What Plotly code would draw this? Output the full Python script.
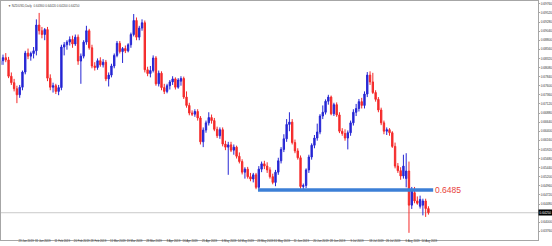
import plotly.graph_objects as go

# ---------------- data (NZDUSD, Daily) ----------------
dates = [
    "14 Jan 2019", "15 Jan 2019", "16 Jan 2019", "17 Jan 2019", "18 Jan 2019",
    "21 Jan 2019", "22 Jan 2019", "23 Jan 2019", "24 Jan 2019", "25 Jan 2019",
    "28 Jan 2019", "29 Jan 2019", "30 Jan 2019", "31 Jan 2019", "1 Feb 2019",
    "4 Feb 2019", "5 Feb 2019", "6 Feb 2019", "7 Feb 2019", "8 Feb 2019",
    "11 Feb 2019", "12 Feb 2019", "13 Feb 2019", "14 Feb 2019", "15 Feb 2019",
    "18 Feb 2019", "19 Feb 2019", "20 Feb 2019", "21 Feb 2019", "22 Feb 2019",
    "25 Feb 2019", "26 Feb 2019", "27 Feb 2019", "28 Feb 2019", "1 Mar 2019",
    "4 Mar 2019", "5 Mar 2019", "6 Mar 2019", "7 Mar 2019", "8 Mar 2019",
    "11 Mar 2019", "12 Mar 2019", "13 Mar 2019", "14 Mar 2019", "15 Mar 2019",
    "18 Mar 2019", "19 Mar 2019", "20 Mar 2019", "21 Mar 2019", "22 Mar 2019",
    "25 Mar 2019", "26 Mar 2019", "27 Mar 2019", "28 Mar 2019", "29 Mar 2019",
    "1 Apr 2019", "2 Apr 2019", "3 Apr 2019", "4 Apr 2019", "5 Apr 2019",
    "8 Apr 2019", "9 Apr 2019", "10 Apr 2019", "11 Apr 2019", "12 Apr 2019",
    "15 Apr 2019", "16 Apr 2019", "17 Apr 2019", "18 Apr 2019", "19 Apr 2019",
    "22 Apr 2019", "23 Apr 2019", "24 Apr 2019", "25 Apr 2019", "26 Apr 2019",
    "29 Apr 2019", "30 Apr 2019", "1 May 2019", "2 May 2019", "3 May 2019",
    "6 May 2019", "7 May 2019", "8 May 2019", "9 May 2019", "10 May 2019",
    "13 May 2019", "14 May 2019", "15 May 2019", "16 May 2019", "17 May 2019",
    "20 May 2019", "21 May 2019", "22 May 2019", "23 May 2019", "24 May 2019",
    "27 May 2019", "28 May 2019", "29 May 2019", "30 May 2019", "31 May 2019",
    "3 Jun 2019", "4 Jun 2019", "5 Jun 2019", "6 Jun 2019", "7 Jun 2019",
    "10 Jun 2019", "11 Jun 2019", "12 Jun 2019", "13 Jun 2019", "14 Jun 2019",
    "17 Jun 2019", "18 Jun 2019", "19 Jun 2019", "20 Jun 2019", "21 Jun 2019",
    "24 Jun 2019", "25 Jun 2019", "26 Jun 2019", "27 Jun 2019", "28 Jun 2019",
    "1 Jul 2019", "2 Jul 2019", "3 Jul 2019", "4 Jul 2019", "5 Jul 2019",
    "8 Jul 2019", "9 Jul 2019", "10 Jul 2019", "11 Jul 2019", "12 Jul 2019",
    "15 Jul 2019", "16 Jul 2019", "17 Jul 2019", "18 Jul 2019", "19 Jul 2019",
    "22 Jul 2019", "23 Jul 2019", "24 Jul 2019", "25 Jul 2019", "26 Jul 2019",
    "29 Jul 2019", "30 Jul 2019", "31 Jul 2019", "1 Aug 2019", "2 Aug 2019",
    "5 Aug 2019", "6 Aug 2019", "7 Aug 2019", "8 Aug 2019", "9 Aug 2019",
    "12 Aug 2019", "13 Aug 2019", "14 Aug 2019", "15 Aug 2019", "16 Aug 2019",
]

opens = [
    0.6815, 0.6826, 0.6834, 0.6828, 0.6785, 0.6768, 0.6752, 0.6736, 0.6756, 0.6796,
    0.6846, 0.6838, 0.6845, 0.6852, 0.6920, 0.6905, 0.6895, 0.6908, 0.6780, 0.6756,
    0.6760, 0.6745, 0.6755, 0.6862, 0.6868, 0.6875, 0.6882, 0.6870, 0.6888, 0.6825,
    0.6838, 0.6875, 0.6905, 0.6860, 0.6812, 0.6808, 0.6826, 0.6815, 0.6822, 0.6778,
    0.6788, 0.6812, 0.6840, 0.6872, 0.6850, 0.6858, 0.6852, 0.6868, 0.6895, 0.6932,
    0.6888, 0.6912, 0.6926, 0.6802, 0.6792, 0.6800, 0.6833, 0.6765, 0.6793, 0.6755,
    0.6745, 0.6760, 0.6770, 0.6778, 0.6756, 0.6772, 0.6779, 0.6730, 0.6708, 0.6688,
    0.6685, 0.6692, 0.6675, 0.6612, 0.6643, 0.6662, 0.6676, 0.6668, 0.6645, 0.6628,
    0.6644, 0.6606, 0.6598, 0.6604, 0.6590, 0.6598, 0.6574, 0.6560, 0.6532, 0.6540,
    0.6520, 0.6514, 0.6525, 0.6492, 0.6540, 0.6554, 0.6548, 0.6538, 0.6520, 0.6505,
    0.6532, 0.6562, 0.6592, 0.6620, 0.6658, 0.6664, 0.6610, 0.6588, 0.6570, 0.6494,
    0.6497, 0.6538, 0.6572, 0.6603, 0.6622, 0.6638, 0.6680, 0.6690, 0.6719, 0.6730,
    0.6686, 0.6710, 0.6683, 0.6640, 0.6634, 0.6622, 0.6636, 0.6662, 0.6690, 0.6700,
    0.6718, 0.6708, 0.6738, 0.6788, 0.6770, 0.6742, 0.6724, 0.6696, 0.6662, 0.6640,
    0.6644, 0.6636, 0.6600, 0.6548, 0.6536, 0.6522, 0.6515, 0.6535, 0.6445, 0.6478,
    0.6456, 0.6442, 0.6445, 0.6456, 0.6436,
]
highs = [
    0.6832, 0.6842, 0.6846, 0.6836, 0.6795, 0.6778, 0.6760, 0.6762, 0.6800, 0.6852,
    0.6858, 0.6850, 0.6862, 0.6935, 0.6952, 0.6915, 0.6912, 0.6915, 0.6790, 0.6768,
    0.6765, 0.6762, 0.6868, 0.6875, 0.6880, 0.6890, 0.6892, 0.6895, 0.6895, 0.6845,
    0.6880, 0.6918, 0.6910, 0.6868, 0.6822, 0.6832, 0.6835, 0.6830, 0.6828, 0.6795,
    0.6818, 0.6845, 0.6878, 0.6878, 0.6862, 0.6866, 0.6872, 0.6900, 0.6949, 0.6940,
    0.6918, 0.6935, 0.6932, 0.6810, 0.6812, 0.6840, 0.6838, 0.6800, 0.6798, 0.6765,
    0.6765, 0.6775, 0.6785, 0.6782, 0.6780, 0.6785, 0.6784, 0.6745, 0.6715, 0.6695,
    0.6698, 0.6698, 0.6680, 0.6650, 0.6668, 0.6690, 0.6684, 0.6675, 0.6652, 0.6650,
    0.6650, 0.6615, 0.6612, 0.6612, 0.6605, 0.6602, 0.6584, 0.6566, 0.6545, 0.6546,
    0.6530, 0.6530, 0.6530, 0.6548, 0.6560, 0.6562, 0.6558, 0.6545, 0.6528, 0.6538,
    0.6570, 0.6598, 0.6632, 0.6672, 0.6690, 0.6672, 0.6618, 0.6595, 0.6576, 0.6502,
    0.6542, 0.6578, 0.6608, 0.6630, 0.6660, 0.6685, 0.6708, 0.6724, 0.6736, 0.6734,
    0.6715, 0.6716, 0.6690, 0.6648, 0.6645, 0.6642, 0.6668, 0.6698, 0.6712, 0.6725,
    0.6728, 0.6745, 0.6796, 0.6798, 0.6794, 0.6748, 0.6730, 0.6702, 0.6668, 0.6650,
    0.6648, 0.6640, 0.6610, 0.6556, 0.6545, 0.6578, 0.6582, 0.6560, 0.6493, 0.6493,
    0.6468, 0.6470, 0.6462, 0.6462, 0.6442,
]
lows = [
    0.6805, 0.6815, 0.6822, 0.6780, 0.6762, 0.6745, 0.6714, 0.6728, 0.6748, 0.6790,
    0.6830, 0.6826, 0.6832, 0.6840, 0.6895, 0.6885, 0.6880, 0.6772, 0.6748, 0.6742,
    0.6738, 0.6735, 0.6748, 0.6840, 0.6855, 0.6866, 0.6860, 0.6865, 0.6815, 0.6765,
    0.6832, 0.6868, 0.6855, 0.6806, 0.6800, 0.6802, 0.6810, 0.6808, 0.6772, 0.6758,
    0.6782, 0.6806, 0.6835, 0.6845, 0.6820, 0.6846, 0.6848, 0.6860, 0.6890, 0.6880,
    0.6880, 0.6905, 0.6795, 0.6785, 0.6782, 0.6795, 0.6760, 0.6758, 0.6748, 0.6738,
    0.6740, 0.6750, 0.6762, 0.6750, 0.6752, 0.6760, 0.6725, 0.6702, 0.6682, 0.6680,
    0.6678, 0.6668, 0.6605, 0.6598, 0.6636, 0.6655, 0.6660, 0.6640, 0.6622, 0.6620,
    0.6600, 0.6590, 0.6525, 0.6585, 0.6578, 0.6568, 0.6555, 0.6526, 0.6515, 0.6515,
    0.6508, 0.6505, 0.6487, 0.6484, 0.6532, 0.6540, 0.6530, 0.6515, 0.6500, 0.6495,
    0.6525, 0.6555, 0.6585, 0.6612, 0.6640, 0.6605, 0.6582, 0.6565, 0.6488, 0.6485,
    0.6490, 0.6530, 0.6565, 0.6595, 0.6615, 0.6632, 0.6672, 0.6684, 0.6710, 0.6682,
    0.6680, 0.6678, 0.6635, 0.6628, 0.6615, 0.6592, 0.6628, 0.6655, 0.6680, 0.6692,
    0.6700, 0.6700, 0.6730, 0.6762, 0.6738, 0.6718, 0.6690, 0.6656, 0.6632, 0.6630,
    0.6628, 0.6596, 0.6542, 0.6530, 0.6512, 0.6515, 0.6492, 0.6372, 0.6435, 0.6450,
    0.6446, 0.6436, 0.6418, 0.6414, 0.6420,
]
closes = [
    0.6826, 0.6834, 0.6828, 0.6785, 0.6768, 0.6752, 0.6736, 0.6756, 0.6796, 0.6846,
    0.6838, 0.6845, 0.6852, 0.6920, 0.6905, 0.6895, 0.6908, 0.6780, 0.6756, 0.6760,
    0.6745, 0.6755, 0.6862, 0.6868, 0.6875, 0.6882, 0.6870, 0.6888, 0.6825, 0.6838,
    0.6875, 0.6905, 0.6860, 0.6812, 0.6808, 0.6826, 0.6815, 0.6822, 0.6778, 0.6788,
    0.6812, 0.6840, 0.6872, 0.6850, 0.6858, 0.6852, 0.6868, 0.6895, 0.6932, 0.6888,
    0.6912, 0.6926, 0.6802, 0.6792, 0.6800, 0.6833, 0.6765, 0.6793, 0.6755, 0.6745,
    0.6760, 0.6770, 0.6778, 0.6756, 0.6775, 0.6779, 0.6730, 0.6708, 0.6688, 0.6685,
    0.6692, 0.6675, 0.6612, 0.6643, 0.6662, 0.6676, 0.6668, 0.6645, 0.6628, 0.6644,
    0.6606, 0.6598, 0.6604, 0.6590, 0.6598, 0.6574, 0.6560, 0.6532, 0.6540, 0.6520,
    0.6514, 0.6525, 0.6492, 0.6540, 0.6554, 0.6548, 0.6538, 0.6520, 0.6505, 0.6532,
    0.6562, 0.6592, 0.6620, 0.6658, 0.6664, 0.6610, 0.6588, 0.6570, 0.6494, 0.6497,
    0.6538, 0.6572, 0.6603, 0.6622, 0.6638, 0.6680, 0.6690, 0.6719, 0.6730, 0.6686,
    0.6710, 0.6683, 0.6640, 0.6634, 0.6622, 0.6636, 0.6662, 0.6690, 0.6700, 0.6718,
    0.6708, 0.6738, 0.6788, 0.6770, 0.6742, 0.6724, 0.6696, 0.6662, 0.6640, 0.6644,
    0.6636, 0.6600, 0.6548, 0.6536, 0.6522, 0.6548, 0.6535, 0.6445, 0.6485, 0.6456,
    0.6450, 0.6460, 0.6456, 0.6436, 0.6425,
]

# date labels along the bottom (MT4 style) and price labels on the right
x_tick_dates = [
    "14 Jan 2019", "23 Jan 2019", "31 Jan 2019", "11 Feb 2019", "20 Feb 2019",
    "28 Feb 2019", "11 Mar 2019", "19 Mar 2019", "28 Mar 2019", "8 Apr 2019",
    "16 Apr 2019", "25 Apr 2019", "6 May 2019", "14 May 2019", "23 May 2019",
    "31 May 2019", "11 Jun 2019", "20 Jun 2019", "28 Jun 2019", "9 Jul 2019",
    "18 Jul 2019", "26 Jul 2019", "6 Aug 2019", "14 Aug 2019",
]
y_tick_values = [
    0.6976, 0.6952, 0.6928, 0.6904, 0.6880, 0.6856, 0.6832, 0.6808, 0.6784,
    0.6760, 0.6736, 0.6712, 0.6688, 0.6664, 0.6640, 0.6616, 0.6592, 0.6568,
    0.6544, 0.6520, 0.6496, 0.6472, 0.6448, 0.6424, 0.6400, 0.6376, 0.6352,
]

symbol_title = "NZDUSD,Daily  0.64360 0.64420 0.64200 0.64250"
support_level = 0.6485
support_label = "0.6485"
support_start_date = "23 May 2019"

# ---------------- figure ----------------
idx = list(range(len(dates)))
BLUE = "#2626d4"
RED = "#f42a2a"

fig = go.Figure()
fig.add_trace(go.Candlestick(
    x=idx, open=opens, high=highs, low=lows, close=closes,
    increasing=dict(line=dict(color=BLUE, width=1), fillcolor=BLUE),
    decreasing=dict(line=dict(color=RED, width=1), fillcolor=RED),
    whiskerwidth=0, hoverinfo="skip", showlegend=False,
))

label_offset = 2.3  # MT4 date text starts at its bar
x_tickvals = [dates.index(d) + label_offset for d in x_tick_dates]

last_i = idx[-1]
last_close = closes[-1]
s_start = dates.index(support_start_date) - 0.3
s_end = last_i + 1.7

fig.add_shape(type="line", xref="paper", x0=0, x1=1, yref="y",
              y0=last_close, y1=last_close,
              line=dict(color="#c9c9c9", width=1), layer="below")
fig.add_shape(type="line", xref="x", yref="y", x0=s_start, x1=s_end,
              y0=support_level, y1=support_level,
              line=dict(color="#3c7fd6", width=3.6))

fig.add_annotation(x=s_end + 0.1, y=support_level, xref="x", yref="y",
                   text=support_label, showarrow=False, xanchor="left",
                   yanchor="middle",
                   font=dict(family="Liberation Sans, Arial", size=8.5,
                             color="#e8423c"))
fig.add_annotation(x=1.0, y=last_close, xref="paper", yref="y",
                   text=f"{last_close:.5f}", showarrow=False, xanchor="left",
                   yanchor="middle", bgcolor="#000000", borderpad=0.5,
                   font=dict(family="Liberation Sans, Arial", size=3.2,
                             color="#ffffff"))
fig.add_annotation(x=0.009, y=0.997, xref="paper", yref="paper",
                   text="\u25bc " + symbol_title, showarrow=False,
                   xanchor="left", yanchor="top",
                   font=dict(family="Liberation Sans, Arial", size=3,
                             color="#444444"))

fig.update_layout(
    width=552, height=246,
    margin=dict(l=1, r=14, t=1, b=6),
    paper_bgcolor="#ffffff", plot_bgcolor="#ffffff",
    showlegend=False,
    xaxis=dict(
        range=[0.28, 193.4], rangeslider=dict(visible=False),
        showgrid=False, zeroline=False,
        showline=True, mirror=True, linecolor="#a6a6a6", linewidth=1,
        tickmode="array", tickvals=x_tickvals, ticktext=x_tick_dates,
        ticks="", ticklabelstandoff=-2, tickangle=0,
        tickfont=dict(family="Liberation Sans, Arial", size=2.8, color="#333333"),
        automargin=False,
    ),
    yaxis=dict(
        side="right", range=[0.63531, 0.69834],
        showgrid=False, zeroline=False,
        showline=True, mirror=True, linecolor="#a6a6a6", linewidth=1,
        tickmode="array", tickvals=y_tick_values,
        ticktext=[f"{v:.5f}" for v in y_tick_values],
        ticks="outside", ticklen=1, tickcolor="#a6a6a6",
        tickfont=dict(family="Liberation Sans, Arial", size=3.2, color="#333333"),
        automargin=False,
    ),
)

fig.write_html("out.html")
